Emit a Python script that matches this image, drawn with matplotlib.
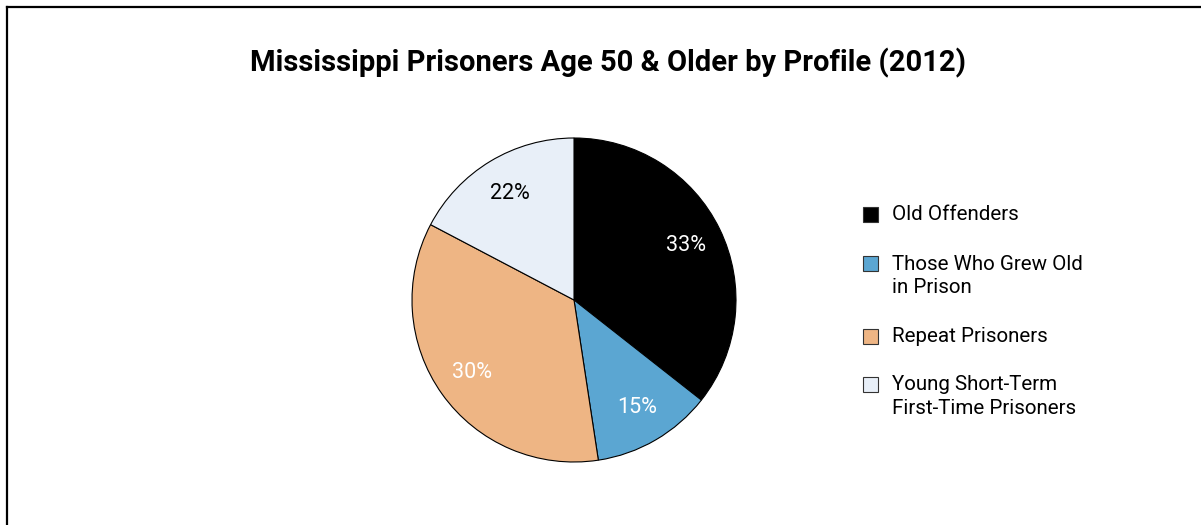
"""
Mississippi prisoners age 50 & older by profile (2012) -- pie chart.
"""

import matplotlib

matplotlib.use("Agg")
import matplotlib.pyplot as plt
from matplotlib.lines import Line2D
from matplotlib.patches import Rectangle

plt.rcParams.update({"font.family": ["Roboto", "DejaVu Sans"]})

# wedge sizes as drawn in the picture, printed labels as shown on the chart
categories = [
    "Old Offenders",
    "Those Who Grew Old\nin Prison",
    "Repeat Prisoners",
    "Young Short-Term\nFirst-Time Prisoners",
]
shares = [35.6, 12.0, 35.1, 17.3]
pct_labels = ["33%", "15%", "30%", "22%"]
colors = ["#000000", "#5ba6d2", "#eeb584", "#e8eff8"]
label_colors = ["white", "white", "white", "black"]

W, H = 1201, 525


def main():
    fig = plt.figure(figsize=(W / 100, H / 100), dpi=100)

    # frame lines on top and left edge
    fig.add_artist(Line2D([6.5 / W, 6.5 / W], [0, 1 - 6.5 / H], color="black", lw=1.6))
    fig.add_artist(Line2D([6.5 / W, 1], [1 - 7 / H, 1 - 7 / H], color="black", lw=1.6))

    fig.text(608 / W, 1 - 63 / H, "Mississippi Prisoners Age 50 & Older by Profile (2012)",
             ha="center", va="center", fontsize=21, fontweight="bold")

    cx, cy, r = 574, 300, 162
    ax = fig.add_axes([(cx - r) / W, 1 - (cy + r) / H, 2 * r / W, 2 * r / H])
    wedges, texts = ax.pie(
        shares,
        colors=colors,
        startangle=90,
        counterclock=False,
        labels=pct_labels,
        labeldistance=0.77,
        wedgeprops={"edgecolor": "black", "linewidth": 0.8},
        textprops={"fontsize": 15.5},
    )
    for t, c in zip(texts, label_colors):
        t.set_color(c)
        t.set_ha("center")
        t.set_va("center")
    ax.set_xlim(-1, 1)
    ax.set_ylim(-1, 1)
    ax.set_aspect("auto")
    ax.axis("off")

    # legend drawn by hand: square + (possibly two-line) label
    ys = [214, 263, 336, 384]
    for y, label, c in zip(ys, categories, colors):
        fig.add_artist(Rectangle(((863) / W, 1 - (y + 7.5) / H), 15 / W, 15 / H,
                                 facecolor=c, edgecolor="#333333", lw=0.8))
        fig.text(892 / W, 1 - (y - 8.5) / H, label, ha="left", va="top",
                 fontsize=14.8, linespacing=1.3)

    fig.savefig("out.png", dpi=100)


if __name__ == "__main__":
    main()
